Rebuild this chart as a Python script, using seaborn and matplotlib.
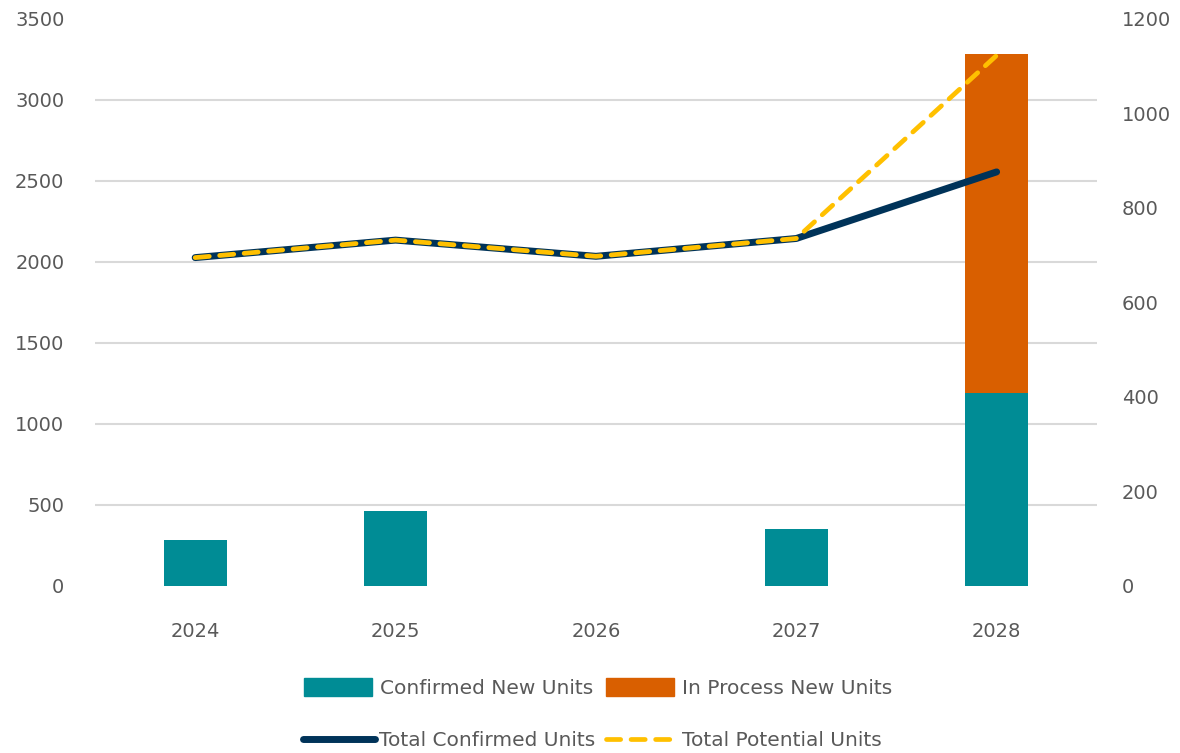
import numpy as np
import pandas as pd
import matplotlib
matplotlib.use("Agg")
import matplotlib.pyplot as plt
import seaborn as sns
from matplotlib.patches import Patch
from matplotlib.lines import Line2D

years = ["2024", "2025", "2026", "2027", "2028"]
# bars (right axis)
confirmed_new = [98, 159, 0, 120, 408]
in_process_new = [0, 0, 0, 0, 717]
# lines (left axis)
total_confirmed = [2027, 2135, 2035, 2145, 2556]
total_potential = [2027, 2135, 2035, 2145, 3275]

teal = "#008C95"
orange = "#D95F00"
navy = "#003359"
yellow = "#FFC000"
grey_txt = "#595959"
grid_col = "#D9D9D9"

df = pd.DataFrame({
    "year": years,
    "confirmed": confirmed_new,
    "all_new": np.array(confirmed_new) + np.array(in_process_new),
    "total_confirmed": total_confirmed,
    "total_potential": total_potential,
})

sns.set_theme(style="white")
plt.rcParams["font.family"] = ["DejaVu Sans"]

fig = plt.figure(figsize=(11.8, 7.53), dpi=100)
ax = fig.add_axes([0.0805, 0.2218, 0.849, 0.753])

# Stacked bars: total first (orange), confirmed on top (teal)
sns.barplot(data=df, x="year", y="all_new", color=orange, width=0.315,
            saturation=1, linewidth=0, edgecolor="none", ax=ax)
sns.barplot(data=df, x="year", y="confirmed", color=teal, width=0.315,
            saturation=1, linewidth=0, edgecolor="none", ax=ax)
ax.set_ylim(0, 1200)
ax.set_yticks(np.arange(0, 1201, 200))
ax.yaxis.tick_right()
# grid matching the left axis ticks (500 steps of 0..3500)
ax.set_yticks(np.arange(0, 3501, 500) * 1200 / 3500, minor=True)
ax.grid(which="minor", axis="y", color=grid_col, linewidth=1.5)
ax.grid(which="major", visible=False)
ax.set_axisbelow(True)
ax.set_xlim(-0.5, 4.5)

ax2 = ax.twinx()
ax2.yaxis.tick_left()
sns.lineplot(data=df, x="year", y="total_confirmed", color=navy, linewidth=5,
             ax=ax2, solid_capstyle="round", sort=False)
sns.lineplot(data=df, x="year", y="total_potential", color=yellow, linewidth=3.4,
             ax=ax2, dashes=False, sort=False)
ax2.lines[-1].set_dashes([3.0, 2.2])
ax2.lines[-1].set_dash_capstyle("round")
ax2.set_ylim(0, 3500)
ax2.set_yticks(np.arange(0, 3501, 500))
ax2.grid(False)

for a in (ax, ax2):
    a.set_xlabel("")
    a.set_ylabel("")
    for s in a.spines.values():
        s.set_visible(False)
    a.tick_params(axis="both", which="both", length=0, labelsize=14, colors=grey_txt)
ax.tick_params(axis="y", which="major", pad=18, labelright=True, labelleft=False)
ax.tick_params(axis="x", pad=26)
ax2.tick_params(axis="y", pad=22, labelleft=True, labelright=False)
ax2.tick_params(axis="x", labelbottom=False)

h1 = [Patch(color=teal), Patch(color=orange)]
fig.legend(h1, ["Confirmed New Units", "In Process New Units"], ncol=2,
           loc="center", bbox_to_anchor=(0.507, 0.086), frameon=False,
           fontsize=14.5, handlelength=3.4, handleheight=1.0, handletextpad=0.4,
           columnspacing=0.6, labelcolor=grey_txt)
h2 = [Line2D([], [], color=navy, linewidth=5, solid_capstyle="round"),
      Line2D([], [], color=yellow, linewidth=3.4, dashes=[3.0, 2.2],
             dash_capstyle="round")]
fig.legend(h2, ["Total Confirmed Units", "Total Potential Units"], ncol=2,
           loc="center", bbox_to_anchor=(0.502, 0.016), frameon=False,
           fontsize=14.5, handlelength=3.6, handletextpad=0.2,
           columnspacing=0.5, labelcolor=grey_txt)

fig.savefig("out.png", dpi=100)
